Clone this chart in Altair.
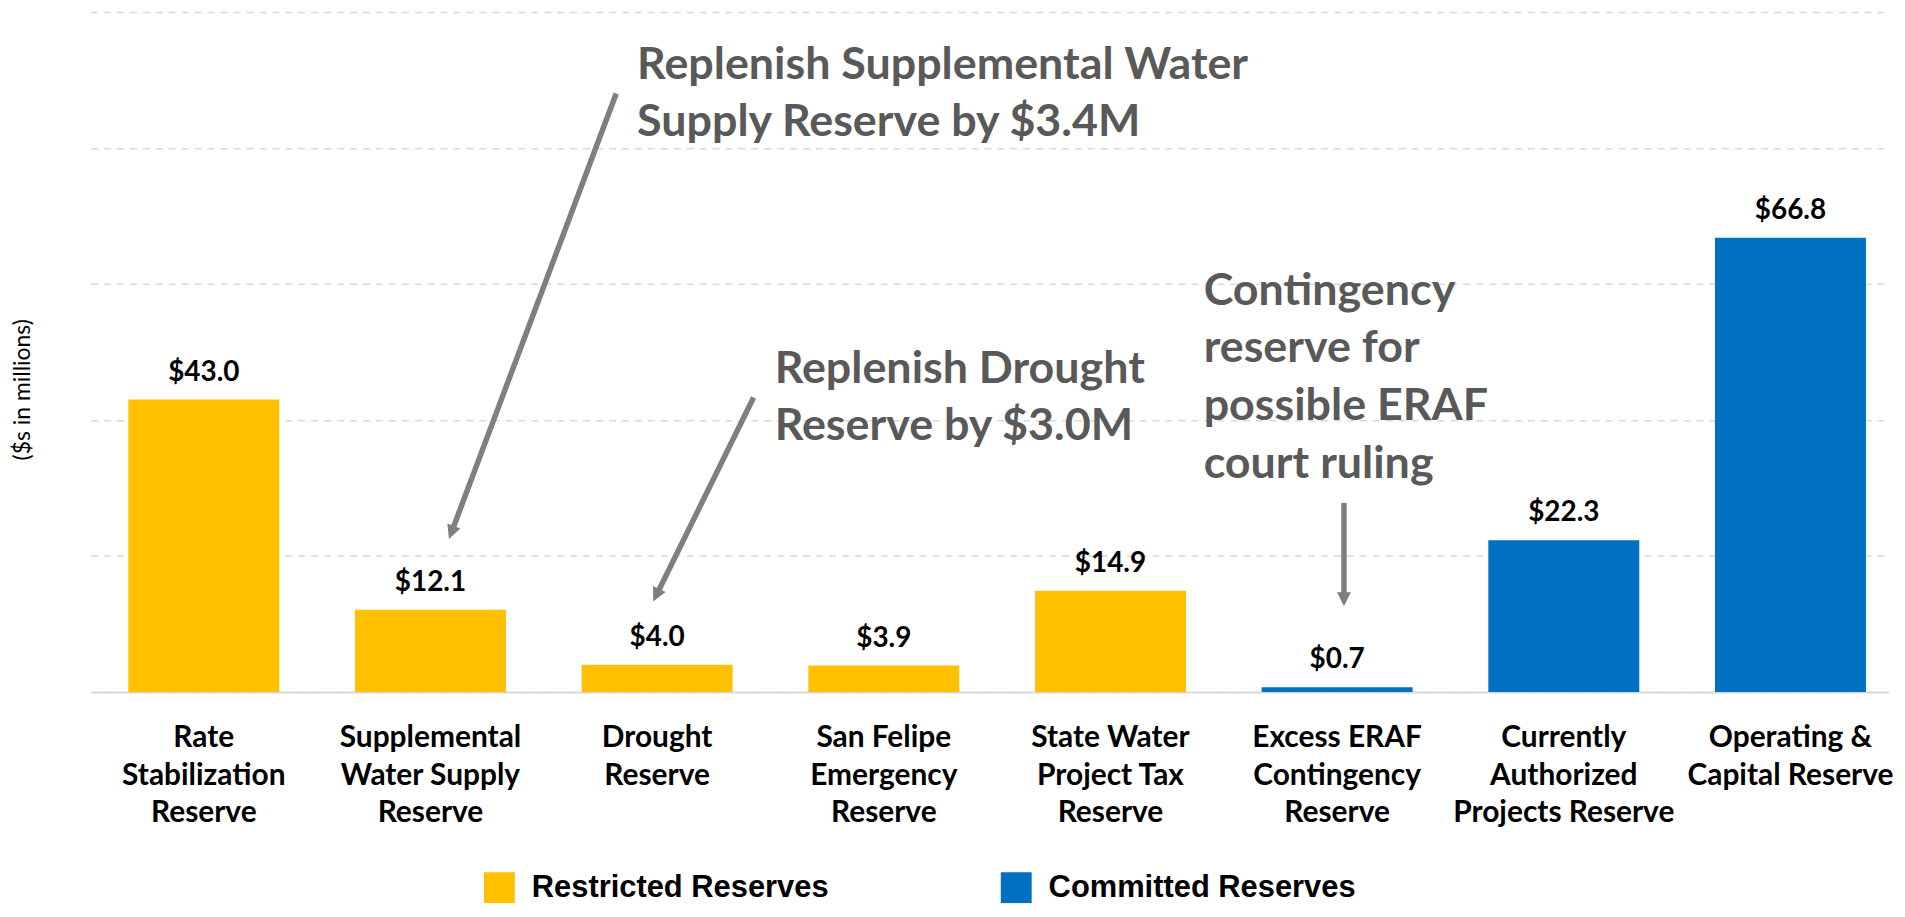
import altair as alt
import pandas as pd

# ---- data ----
categories = [
    "Rate|Stabilization|Reserve",
    "Supplemental|Water Supply|Reserve",
    "Drought|Reserve",
    "San Felipe|Emergency|Reserve",
    "State Water|Project Tax|Reserve",
    "Excess ERAF|Contingency|Reserve",
    "Currently|Authorized|Projects Reserve",
    "Operating &|Capital Reserve",
]
values = [43.0, 12.1, 4.0, 3.9, 14.9, 0.7, 22.3, 66.8]
groups = [
    "Restricted Reserves", "Restricted Reserves", "Restricted Reserves",
    "Restricted Reserves", "Restricted Reserves",
    "Committed Reserves", "Committed Reserves", "Committed Reserves",
]
group_order = ["Restricted Reserves", "Committed Reserves"]
bar_colors = ["#FFC000", "#0070C0"]

# annotation positions in category-index units (x) and $M (y)
note_texts = [
    "Replenish Supplemental Water\nSupply Reserve by $3.4M",
    "Replenish Drought\nReserve by $3.0M",
    "Contingency\nreserve for\npossible ERAF\ncourt ruling",
]
note_x = [1.911, 2.518, 4.411]
note_y = [90.2, 45.5, 56.95]

arrow_tail_x = [1.819, 2.425, 5.03]
arrow_tail_y = [88.0, 43.3, 27.8]
arrow_end_x = [1.092, 1.996, 5.03]
arrow_end_y = [23.46, 14.22, 13.62]
arrow_tip_x = [1.081, 1.982, 5.03]
arrow_tip_y = [22.5, 13.3, 12.6]
arrow_angle = [200.6, 206.2, 180.0]

df = pd.DataFrame({"label": categories, "value": values, "group": groups})
notes_df = pd.DataFrame({"x": note_x, "y": note_y, "text": note_texts})
arrows_df = pd.DataFrame({
    "x": arrow_tail_x, "y": arrow_tail_y,
    "x2": arrow_end_x, "y2": arrow_end_y,
    "hx": arrow_tip_x, "hy": arrow_tip_y, "angle": arrow_angle,
})

FONT = "Lato"
GRAY_TXT = "#595959"
ARROW = "#7F7F7F"
YTITLE = "($s in millions)"

x_scale = alt.Scale(paddingInner=0.334, paddingOuter=0.134, align=0.62)
y_scale = alt.Scale(domain=[0, 100], nice=False)

x_axis = alt.Axis(
    title=None, labelExpr="split(datum.label, '|')", labelAngle=0,
    labelFont=FONT, labelFontSize=30, labelFontWeight="bold", labelColor="#000000",
    labelLineHeight=37.5, labelPadding=31, labelOverlap=False, labelLimit=400,
    labelBound=False, ticks=False, grid=False,
    domainColor="#D9D9D9", domainWidth=2,
)
y_axis = alt.Axis(
    values=[0, 20, 40, 60, 80, 100], labels=False, ticks=False, domain=False,
    grid=True, gridColor="#D9D9D9", gridWidth=1.5, gridDash=[7, 6],
    title=YTITLE, titleX=-68, titleY=379, titleAngle=270, titleAlign="center",
    titleBaseline="middle", titleFont=FONT, titleFontSize=23,
    titleFontWeight="normal", titleColor="#000000",
)

x_enc = alt.X("label:N", sort=categories, scale=x_scale, axis=x_axis)
y_enc = alt.Y("value:Q", scale=y_scale, axis=y_axis)

legend = alt.Legend(
    title=None, orient="none", legendX=395, legendY=864,
    direction="horizontal", symbolType="square", symbolSize=961,
    symbolStrokeWidth=0, symbolOpacity=1,
    labelFont="Liberation Sans", labelFontSize=31, labelFontWeight="bold",
    labelColor="#000000", labelOffset=17, columnPadding=172,
    labelLimit=500, padding=0, rowPadding=0,
)

base = alt.Chart(df)

bars = base.mark_bar().encode(
    x=x_enc,
    y=y_enc,
    color=alt.Color("group:N", scale=alt.Scale(domain=group_order, range=bar_colors), legend=legend),
)

value_labels = base.mark_text(
    font=FONT, fontSize=28, fontWeight="bold", color="#000000",
    baseline="alphabetic", align="center", dy=-19,
).encode(
    x=x_enc,
    y=y_enc,
    text=alt.Text("value:Q", format="$.1f"),
)

ax_scale = alt.Scale(domain=[-0.5, 7.435], nice=False, zero=False)

rules = alt.Chart(arrows_df).mark_rule(color=ARROW, strokeWidth=5.5).encode(
    x=alt.X("x:Q", scale=ax_scale, axis=None),
    y=alt.Y("y:Q", title=YTITLE),
    x2="x2:Q",
    y2="y2:Q",
)

heads = alt.Chart(arrows_df).mark_point(
    shape="M0,0 L1,2 L-1,2 Z", filled=True, color=ARROW, size=196,
    opacity=1, strokeWidth=0,
).encode(
    x=alt.X("hx:Q", scale=ax_scale, axis=None),
    y=alt.Y("hy:Q", title=YTITLE),
    angle=alt.Angle("angle:Q", scale=None),
)

notes = alt.Chart(notes_df).mark_text(
    align="left", baseline="alphabetic", font=FONT, fontSize=45,
    fontWeight="bold", color=GRAY_TXT, lineHeight=58, lineBreak="\n",
).encode(
    x=alt.X("x:Q", scale=ax_scale, axis=None),
    y=alt.Y("y:Q", title=YTITLE),
    text="text:N",
)

chart = alt.layer(
    alt.layer(bars, value_labels),
    alt.layer(rules, heads, notes),
).resolve_scale(x="independent").properties(
    width=1806, height=683,
    padding={"left": 83, "top": 2, "right": 8, "bottom": 215},
    autosize=alt.AutoSizeParams(type="none"),
    background="white",
).configure_view(stroke=None)

chart.save("out.html", embed_options={"renderer": "svg", "actions": False})
